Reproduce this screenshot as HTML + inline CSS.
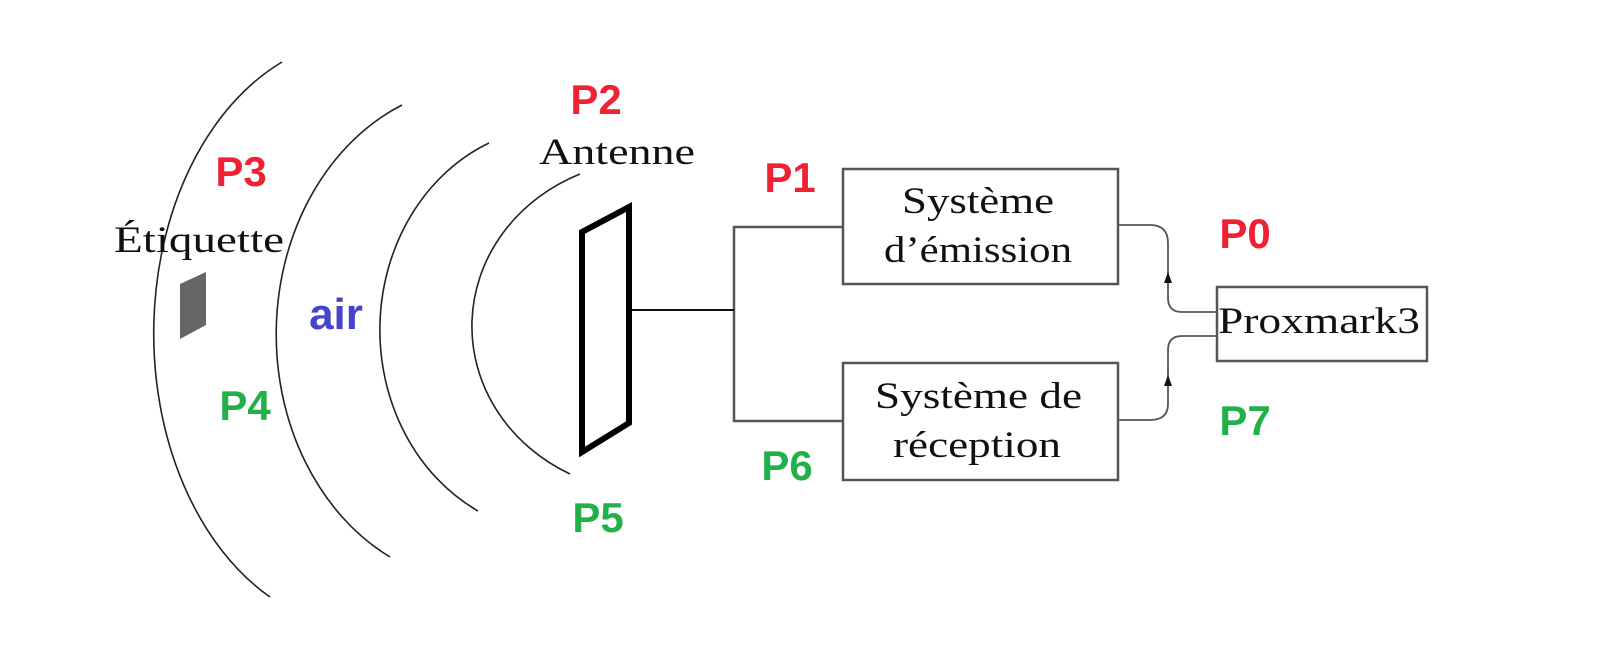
<!DOCTYPE html>
<html><head><meta charset="utf-8"><style>
html,body{margin:0;padding:0;background:#fff;}
svg{display:block;}
.s{font-family:"Liberation Serif",serif;font-size:37px;fill:#111;}
.p{font-family:"Liberation Sans",sans-serif;font-weight:bold;font-size:42px;text-anchor:middle;}
</style></head><body>
<svg width="1599" height="660" viewBox="0 0 1599 660" xmlns="http://www.w3.org/2000/svg">
<rect width="1599" height="660" fill="#fff"/>
<g fill="none" stroke="#222" stroke-width="1.6">
<path d="M282 62 A211 295 0 0 0 270 597"/>
<path d="M402 105 A206 249 0 0 0 390 557"/>
<path d="M489 143 A179 203 0 0 0 478 511"/>
<path d="M580 174 A180 166 0 0 0 570 474"/>
</g>
<polygon points="582,232 629,207 629,423 582,452" fill="none" stroke="#000" stroke-width="6" stroke-linejoin="miter"/>
<polygon points="180,284 206,272 206,325 180,339" fill="#666"/>
<g fill="none" stroke="#555" stroke-width="2.5">
<path d="M843 227 H734 V421 H843"/>
<rect x="843" y="169" width="275" height="115"/>
<rect x="843" y="363" width="275" height="117"/>
<rect x="1217" y="287" width="210" height="74"/>
</g>
<path d="M632 310 H734" stroke="#111" stroke-width="2"/>
<g fill="none" stroke="#555" stroke-width="1.8">
<path d="M1119 225 H1150 Q1168 225 1168 243 V298 Q1168 312 1182 312 H1217"/>
<path d="M1217 336 H1182 Q1168 336 1168 350 V404 Q1168 420 1150 420 H1119"/>
</g>
<polygon points="1168,272 1164,283 1172,283" fill="#111"/>
<polygon points="1168,375 1164,386 1172,386" fill="#111"/>
<text class="s" x="114" y="252" textLength="170" lengthAdjust="spacingAndGlyphs">Étiquette</text>
<text class="s" x="539" y="164" textLength="156" lengthAdjust="spacingAndGlyphs">Antenne</text>
<text class="s" x="902" y="213" textLength="152" lengthAdjust="spacingAndGlyphs">Système</text>
<text class="s" x="884" y="262" textLength="188" lengthAdjust="spacingAndGlyphs">d’émission</text>
<text class="s" x="875" y="408" textLength="207" lengthAdjust="spacingAndGlyphs">Système de</text>
<text class="s" x="893" y="457" textLength="168" lengthAdjust="spacingAndGlyphs">réception</text>
<text class="s" x="1218" y="333" textLength="202" lengthAdjust="spacingAndGlyphs">Proxmark3</text>
<g class="p">
<text class="p" x="596" y="114" fill="#ee2233">P2</text>
<text class="p" x="241" y="186" fill="#ee2233">P3</text>
<text class="p" x="790" y="192" fill="#ee2233">P1</text>
<text class="p" x="1245" y="248" fill="#ee2233">P0</text>
<text class="p" x="336" y="329" fill="#4444cc" style="font-size:44px">air</text>
<text class="p" x="245" y="420" fill="#22b04a">P4</text>
<text class="p" x="598" y="532" fill="#22b04a">P5</text>
<text class="p" x="787" y="480" fill="#22b04a">P6</text>
<text class="p" x="1245" y="435" fill="#22b04a">P7</text>
</g>
</svg>
</body></html>
